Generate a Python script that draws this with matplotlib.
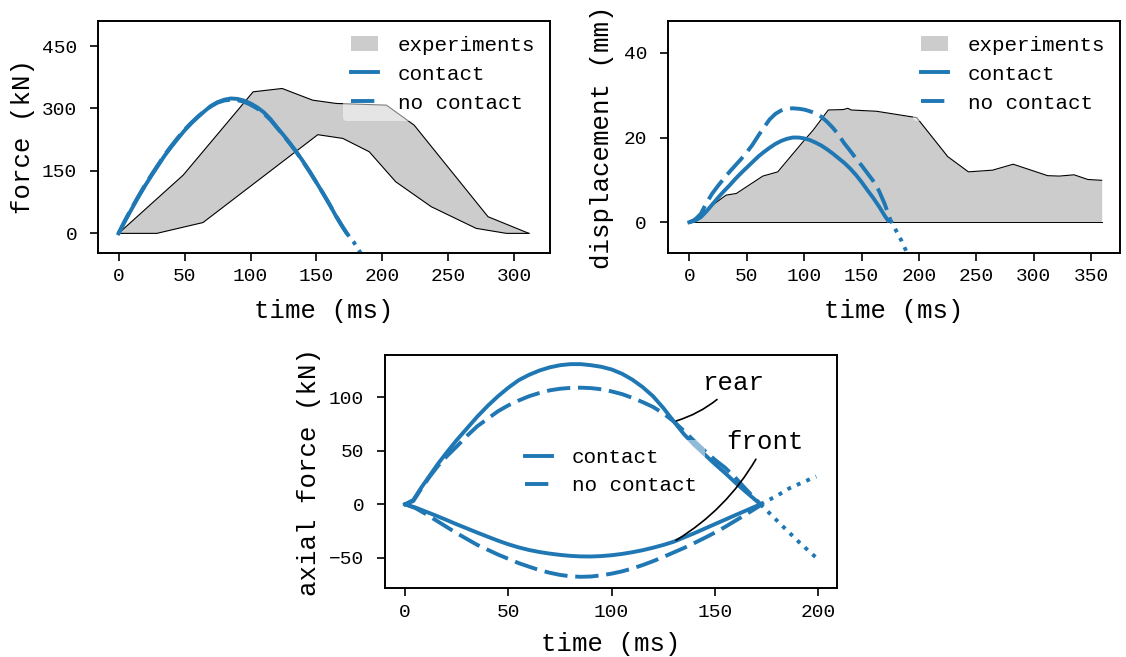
import matplotlib.pyplot as plt

plt.rcParams['font.family'] = 'Liberation Mono'

BLUE = '#1f77b4'
GREY = '#cccccc'
NODASH = (0, (6, 2))
LW = 2.8

# --- force (top left) ---
exp_f_hi_t = [0, 49, 102, 124, 147, 165, 203, 224, 280, 311]
exp_f_hi = [0, 140, 340, 348, 320, 312, 308, 260, 40, 0]
exp_f_lo_t = [0, 29, 64, 151, 170, 190, 210, 237, 271, 294, 311]
exp_f_lo = [0, 0, 26, 237, 228, 196, 124, 64, 12, 0, 0]

t_f = [0, 5, 10, 15, 20, 25, 30, 35, 40, 45, 50, 55, 60, 65, 70, 75, 80, 85, 90, 95, 100,
       105, 110, 115, 120, 125, 130, 135, 140, 145, 150, 155, 160, 165, 170, 173]
f_c = [0, 30, 59, 87, 114, 139, 163, 187, 208, 228, 247, 264, 279, 293, 306, 315, 321, 324, 323, 319, 312,
       303, 291, 275, 255, 236, 216, 195, 172, 148, 122, 96, 69, 40, 14, 0]
f_n = [0, 32, 61, 89, 116, 141, 165, 189, 210, 230, 249, 265, 280, 294, 305, 314, 319, 321, 320, 316, 309,
       300, 288, 273, 254, 235, 215, 194, 171, 147, 122, 96, 69, 41, 15, 0]
t_f_n_ext = [173, 178, 186]
f_n_ext = [0, -20, -60]

# --- displacement (top right) ---
exp_d_t = [0, 32, 41, 64, 77, 99, 108, 121, 134, 138, 141, 163, 198, 225, 243, 264, 282, 312, 322, 335, 347, 359]
exp_d = [0, 6.4, 6.8, 10.9, 11.9, 19, 21.8, 26.5, 26.6, 26.9, 26.5, 26.2, 24.7, 15.5, 11.9, 12.3, 13.7, 11, 10.9, 11.2, 10.1, 9.9]

t_d_c = [0, 5, 10, 15, 20, 25, 30, 35, 40, 45, 50, 55, 60, 65, 70, 75, 80, 85, 90, 95, 100,
         105, 110, 115, 120, 125, 130, 135, 140, 145, 150, 155, 160, 165, 170, 173]
d_c = [0, 0.4, 1.2, 2.6, 4.2, 5.8, 7.3, 8.7, 10.2, 11.6, 12.9, 14.2, 15.5, 16.6, 17.6, 18.5, 19.2, 19.7, 20, 20, 19.8,
       19.4, 18.8, 18.1, 17.2, 16.2, 15.1, 14.0, 12.7, 11.2, 9.5, 7.6, 5.8, 3.8, 1.6, 0.4]
t_d_n = [0, 5, 10, 15, 20, 25, 30, 35, 40, 45, 50, 55, 60, 65, 70, 75, 80, 85, 90, 95, 100,
         105, 110, 115, 120, 125, 130, 135, 140, 145, 150, 155, 160, 165, 170, 175]
d_n = [0, 0.6, 2.0, 4.6, 6.8, 8.6, 10.3, 11.9, 13.4, 14.9, 16.5, 18.3, 20.4, 22.4, 24.3, 25.6, 26.4, 26.8, 26.9, 26.8, 26.6,
       26.2, 25.7, 24.9, 23.7, 22.3, 20.6, 18.6, 16.9, 15.1, 13.4, 11.6, 9.8, 7.5, 4.4, 0.6]
t_d_n_ext = [175, 185, 195]
d_n_ext = [0.6, -4.5, -10.5]

# --- axial force (bottom) ---
t_rear_c = [0, 4, 8, 12, 16, 20, 25, 30, 35, 40, 45, 50, 55, 60, 65, 70, 75, 80, 85, 90, 95, 100,
            105, 110, 115, 120, 125, 130, 135, 140, 145, 150, 155, 160, 165, 172]
rear_c = [0, 4, 16, 27, 38, 48, 60, 71, 82, 92, 101, 109, 116, 121, 125, 128, 130, 131, 131, 130, 128.5, 126,
          122, 116.5, 109.5, 101, 90, 77.5, 65.5, 55.5, 46.5, 37.5, 29, 20, 11.5, 0]
t_rear_n = [0, 4, 8, 12, 16, 20, 25, 30, 35, 40, 45, 50, 55, 60, 65, 70, 75, 80, 85, 90, 95, 100,
            105, 110, 115, 120, 125, 130, 135, 140, 145, 150, 155, 160, 165, 172]
rear_n = [0, 3, 15, 26, 36, 44.5, 54, 64, 73, 80, 87, 92.5, 97, 101, 104, 106.5, 108, 108.8, 109, 108.6, 107.5, 105.5,
          103, 99.5, 95.5, 91, 85, 77.5, 68.5, 59, 50, 41.5, 34, 24.5, 14, 0]
t_front_c = [0, 5, 10, 15, 20, 25, 30, 35, 40, 45, 50, 55, 60, 65, 70, 75, 80, 85, 90, 95, 100,
             105, 110, 115, 120, 125, 130, 140, 150, 160, 172]
front_c = [0, -3, -6.8, -10.6, -14.6, -18.7, -22.6, -26.5, -30.3, -34, -37.4, -40.3, -42.7, -44.6, -46.1, -47.3, -48.2, -48.7, -48.8, -48.4, -47.6,
           -46.4, -44.8, -42.9, -40.6, -38, -35, -27, -18.5, -10, 0]
t_front_n = [0, 5, 10, 15, 20, 25, 30, 35, 40, 45, 50, 55, 60, 65, 70, 75, 80, 85, 90, 95, 100,
             105, 110, 115, 120, 125, 130, 135, 140, 145, 150, 155, 160, 165, 172]
front_n = [0, -3.5, -9, -15, -21, -27, -32.5, -38, -42.5, -47, -51, -55, -58.3, -61.5, -64, -66, -67.3, -67.8, -67.5, -66.4, -64.8,
           -62.7, -60, -56.8, -53.2, -49.2, -45, -40.8, -36.2, -31.4, -26.4, -21, -15.2, -9.4, -1]
t_up_ext = [172, 180, 186, 193, 199]
up_ext = [0, 8, 15, 21, 26]
t_down_ext = [172, 183, 191, 199]
down_ext = [0, -21, -36, -50]


def style(ax):
    for s in ax.spines.values():
        s.set_linewidth(1.4)
    ax.tick_params(length=6, width=1.2, labelsize=14)
    ax.tick_params(axis='x', pad=5)
    ax.tick_params(axis='y', pad=9)


fig = plt.figure(figsize=(11.26, 6.57), dpi=100)
ax1 = fig.add_axes([0.087, 0.615, 0.4015, 0.353])
ax2 = fig.add_axes([0.5932, 0.615, 0.4015, 0.353])
ax3 = fig.add_axes([0.3419, 0.1046, 0.4014, 0.355])

# force
ax1.fill(exp_f_hi_t + exp_f_lo_t[::-1], exp_f_hi + exp_f_lo[::-1], color=GREY, lw=0, label='experiments')
ax1.plot(exp_f_hi_t, exp_f_hi, 'k', lw=0.8)
ax1.plot(exp_f_lo_t, exp_f_lo, 'k', lw=0.8)
ax1.plot(t_f, f_c, color=BLUE, lw=LW, label='contact')
ax1.plot(t_f, f_n, color=BLUE, lw=LW, ls=NODASH, label='no contact')
ax1.plot(t_f_n_ext, f_n_ext, color=BLUE, lw=LW, ls=':')
ax1.set_xlim(-15.6, 327)
ax1.set_ylim(-47, 510)
ax1.set_xticks(range(0, 301, 50))
ax1.set_yticks([0, 150, 300, 450])
ax1.set_xlabel('time (ms)', fontsize=18.5, labelpad=10)
ax1.set_ylabel('force (kN)', fontsize=18.5, labelpad=5)

# displacement
ax2.fill_between(exp_d_t, exp_d, color=GREY, lw=0, label='experiments')
ax2.plot(exp_d_t, exp_d, 'k', lw=0.8)
ax2.plot([exp_d_t[0], exp_d_t[-1]], [0, 0], 'k', lw=0.7)
ax2.plot(t_d_c, d_c, color=BLUE, lw=LW, label='contact')
ax2.plot(t_d_n, d_n, color=BLUE, lw=LW, ls=NODASH, label='no contact')
ax2.plot(t_d_n_ext, d_n_ext, color=BLUE, lw=LW, ls=':')
ax2.set_xlim(-18.6, 375)
ax2.set_ylim(-7.24, 47.5)
ax2.set_xticks(range(0, 351, 50))
ax2.set_yticks([0, 20, 40])
ax2.set_xlabel('time (ms)', fontsize=18.5, labelpad=10)
ax2.set_ylabel('displacement (mm)', fontsize=18.5, labelpad=7)

# axial force
ax3.plot(t_rear_c, rear_c, color=BLUE, lw=LW, label='contact')
ax3.plot(t_rear_n, rear_n, color=BLUE, lw=LW, ls=NODASH, label='no contact')
ax3.plot(t_front_c, front_c, color=BLUE, lw=LW)
ax3.plot(t_front_n, front_n, color=BLUE, lw=LW, ls=NODASH)
ax3.plot(t_up_ext, up_ext, color=BLUE, lw=LW, ls=':')
ax3.plot(t_down_ext, down_ext, color=BLUE, lw=LW, ls=':')
ax3.set_xlim(-9.7, 209)
ax3.set_ylim(-78.5, 139.5)
ax3.set_xticks(range(0, 201, 50))
ax3.set_yticks([-50, 0, 50, 100])
ax3.set_xlabel('time (ms)', fontsize=18.5, labelpad=8)
ax3.set_ylabel('axial force (kN)', fontsize=18.5, labelpad=6)
ax3.annotate('rear', xy=(130, 77.2), xytext=(159.2, 113.4), ha='center', va='center', fontsize=18.5,
             arrowprops=dict(arrowstyle='-', color='k', lw=1.2, connectionstyle='arc3,rad=-0.15'))
ax3.annotate('front', xy=(130, -35), xytext=(174.2, 58.2), ha='center', va='center', fontsize=18.5,
             arrowprops=dict(arrowstyle='-', color='k', lw=1.2, connectionstyle='arc3,rad=-0.15'))

for ax in (ax1, ax2, ax3):
    style(ax)
for ax in (ax1, ax2):
    ax.legend(loc='upper right', fontsize=15, framealpha=0.5, edgecolor='none', handlelength=1.3,
              handletextpad=0.95, labelspacing=0.48, borderaxespad=0.3)
ax3.legend(loc='center', fontsize=15, framealpha=0.5, edgecolor='none', handlelength=1.3,
           handletextpad=0.95, labelspacing=0.45)

fig.savefig('out.png', dpi=100)
